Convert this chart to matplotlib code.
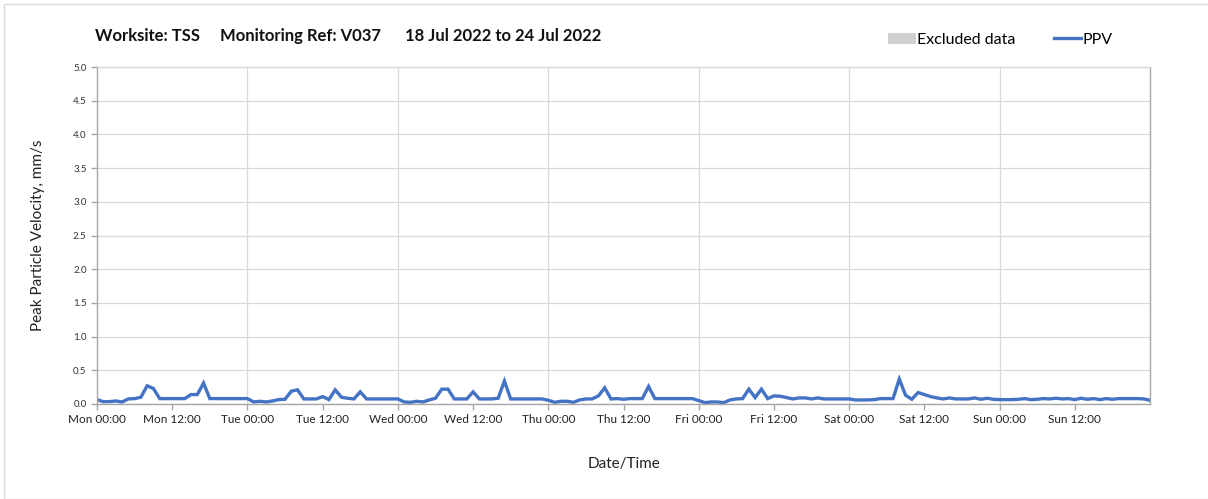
import matplotlib.pyplot as plt
from matplotlib.patches import Patch, Rectangle
from matplotlib.lines import Line2D
import pandas as pd

plt.rcParams['font.family'] = ['Lato', 'DejaVu Sans']

# hourly PPV readings (mm/s), Mon 18 Jul 00:00 onwards
ppv = [
    # Mon
    0.065, 0.035, 0.035, 0.045, 0.03, 0.075, 0.08, 0.10, 0.27, 0.23, 0.08, 0.08,
    0.08, 0.08, 0.08, 0.14, 0.14, 0.31, 0.08, 0.08, 0.08, 0.08, 0.08, 0.08,
    # Tue
    0.08, 0.03, 0.04, 0.03, 0.045, 0.065, 0.07, 0.19, 0.21, 0.075, 0.075, 0.075,
    0.11, 0.065, 0.21, 0.10, 0.085, 0.075, 0.18, 0.075, 0.075, 0.075, 0.075, 0.075,
    # Wed
    0.075, 0.03, 0.025, 0.04, 0.03, 0.06, 0.085, 0.22, 0.22, 0.075, 0.075, 0.075,
    0.18, 0.075, 0.075, 0.075, 0.085, 0.34, 0.075, 0.075, 0.075, 0.075, 0.075, 0.075,
    # Thu
    0.055, 0.025, 0.04, 0.04, 0.025, 0.06, 0.075, 0.075, 0.12, 0.24, 0.075, 0.08,
    0.07, 0.08, 0.08, 0.08, 0.26, 0.08, 0.08, 0.08, 0.08, 0.08, 0.08, 0.08,
    # Fri
    0.05, 0.02, 0.03, 0.03, 0.02, 0.06, 0.075, 0.08, 0.22, 0.095, 0.22, 0.08,
    0.12, 0.115, 0.095, 0.075, 0.09, 0.09, 0.075, 0.09, 0.075, 0.075, 0.075, 0.075,
    # Sat
    0.075, 0.06, 0.06, 0.06, 0.065, 0.08, 0.08, 0.08, 0.37, 0.13, 0.07, 0.17,
    0.14, 0.11, 0.09, 0.075, 0.09, 0.075, 0.075, 0.075, 0.09, 0.07, 0.085, 0.07,
    # Sun
    0.065, 0.065, 0.065, 0.07, 0.08, 0.065, 0.07, 0.08, 0.075, 0.085, 0.075, 0.08,
    0.065, 0.085, 0.07, 0.08, 0.065, 0.08, 0.07, 0.08, 0.08, 0.08, 0.08, 0.075,
    0.055,
]
times = pd.date_range('2022-07-18 00:00', periods=len(ppv), freq='h')

start = pd.Timestamp('2022-07-18 00:00')
end = pd.Timestamp('2022-07-25 00:00')
tick_times = pd.date_range(start, end - pd.Timedelta(hours=12), freq='12h')
tick_labels = [t.strftime('%a %H:%M') for t in tick_times]
grid_times = pd.date_range(start + pd.Timedelta(days=1), end - pd.Timedelta(days=1), freq='D')

title = 'Worksite: TSS     Monitoring Ref: V037      18 Jul 2022 to 24 Jul 2022'

fig = plt.figure(figsize=(12.08, 4.99), dpi=100)
ax = fig.add_axes([0.0803, 0.1904, 0.8717, 0.6753])

ax.plot(times, ppv, color='#4472C4', linewidth=2.4, solid_joinstyle='miter')

ax.set_xlim(start, end)
ax.set_ylim(0, 5)
ax.set_yticks([i * 0.5 for i in range(11)])
ax.set_yticklabels([f'{i * 0.5:.1f}' for i in range(11)], fontsize=7, color='#333333')
ax.set_xticks(tick_times)
ax.set_xticklabels(tick_labels, fontsize=8.5, color='#222222')

for g in grid_times:
    ax.axvline(g, color='#d9d9d9', linewidth=0.9, zorder=0)
ax.yaxis.grid(True, color='#d9d9d9', linewidth=0.9)
ax.set_axisbelow(True)

for side in ['left', 'bottom', 'right', 'top']:
    ax.spines[side].set_color('#a6a6a6')
    ax.spines[side].set_linewidth(1.0)
ax.spines['top'].set_color('#d9d9d9')
ax.tick_params(axis='both', direction='out', length=4, color='#a6a6a6', width=1)
ax.tick_params(axis='x', pad=3)

ax.set_ylabel('Peak Particle Velocity, mm/s', fontsize=11, color='#222222', labelpad=20)
ax.set_xlabel('Date/Time', fontsize=11, color='#222222', labelpad=23)

fig.text(95 / 1208, 1 - 36 / 499, title, fontsize=12, fontweight='bold',
         ha='left', va='center', color='#111111')

handles = [Patch(facecolor='#d0d0d0', edgecolor='none'),
           Line2D([0], [0], color='#4472C4', linewidth=2.4)]
fig.legend(handles, ['Excluded data', 'PPV'], loc='center left',
           bbox_to_anchor=(874 / 1208, 1 - 40 / 499), ncol=2, frameon=False,
           fontsize=11.5, handlelength=1.7, handletextpad=0.1, columnspacing=2.4)

fig.patches.append(Rectangle((4 / 1208, 0), 1.0, 1 - 4 / 499, transform=fig.transFigure,
                             fill=False, edgecolor='#d9d9d9', linewidth=1.0))

fig.savefig('out.png', dpi=100)
